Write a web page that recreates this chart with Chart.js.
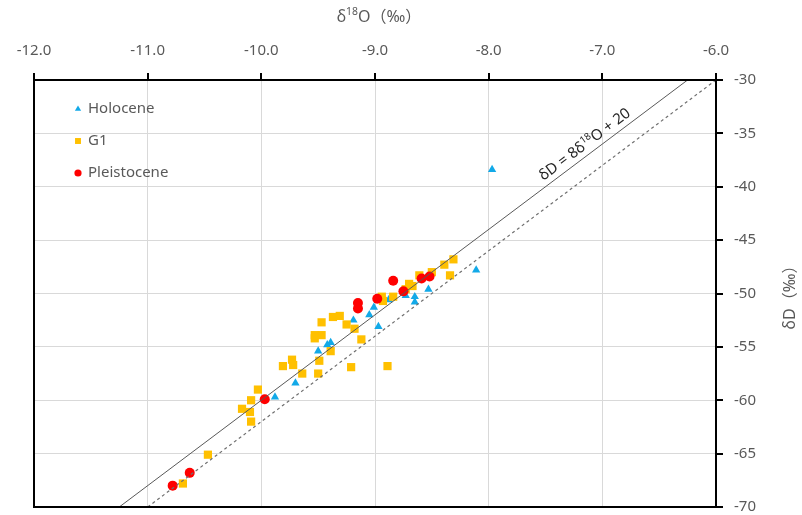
<!DOCTYPE html>
<html>
<head>
<meta charset="utf-8">
<script src="https://cdn.jsdelivr.net/npm/chart.js@4"></script>
<style>
  html, body { margin: 0; padding: 0; background: #fff; }
  #wrap { width: 802px; height: 515px; }
</style>
</head>
<body>
<div id="wrap"><canvas id="chart" width="802" height="515"></canvas></div>
<script>
// 値は画像から読み取り (δ18O, δD)
const holoceneO = [-9.88, -9.70, -9.50, -9.42, -9.39, -9.19, -9.05, -9.01, -8.97, -8.88, -8.73, -8.65, -8.65, -8.53, -8.11, -7.97];
const holoceneD = [-59.7, -58.4, -55.4, -54.8, -54.6, -52.5, -52.0, -51.3, -53.1, -50.6, -50.2, -50.3, -50.8, -49.6, -47.8, -38.4];

const g1O = [-10.69, -10.47, -10.03, -10.09, -10.17, -10.10, -10.09, -9.64, -9.81, -9.73, -9.72, -9.49, -9.50, -9.39, -9.21, -8.89,
             -9.53, -9.53, -9.47, -9.47, -9.37, -9.31, -9.25, -9.18, -9.12, -8.94, -8.93, -8.84, -8.70, -8.67, -8.61, -8.73,
             -8.50, -8.39, -8.31, -8.34];
const g1D = [-67.8, -65.1, -59.0, -60.0, -60.8, -61.1, -62.0, -57.5, -56.8, -56.2, -56.7, -56.3, -57.5, -55.4, -56.9, -56.8,
             -53.9, -54.2, -53.9, -52.7, -52.2, -52.1, -52.9, -53.3, -54.3, -50.3, -50.7, -50.3, -49.1, -49.3, -48.3, -49.6,
             -48.0, -47.3, -46.8, -48.3];

const pleistoO = [-10.78, -10.63, -9.97, -9.15, -9.15, -8.98, -8.84, -8.75, -8.59, -8.52];
const pleistoD = [-68.0, -66.8, -59.9, -50.9, -51.4, -50.5, -48.8, -49.8, -48.6, -48.4];

// 線の両端 (実線: δD = 8δ18O + 20, 破線)
const solidO = [-11.25, -6.25];
const solidD = [-70, -30];
const dashO = [-11.0, -6.0];
const dashD = [-70, -30];

const xTicks = [-12, -11, -10, -9, -8, -7, -6];
const yTicks = [-30, -35, -40, -45, -50, -55, -60, -65, -70];

const seriesNames = ['Holocene', 'G1', 'Pleistocene'];
const seriesColors = ['#12A9E8', '#FFC000', '#FF0000'];
const seriesStyles = ['triangle', 'rect', 'circle'];

const pts = (xs, ys) => xs.map((v, i) => ({ x: v, y: ys[i] }));
const FONT = '"Noto Sans", "Noto Sans CJK SC", sans-serif';
const TXT = '#595959';

// 上付き文字付きテキスト描画
function drawParts(ctx, parts, size) {
    let w = 0;
    parts.forEach(p => {
        ctx.font = (p[1] ? size * 0.65 : size) + 'px ' + FONT;
        w += ctx.measureText(p[0]).width;
    });
    let x = -w / 2;
    parts.forEach(p => {
        ctx.font = (p[1] ? size * 0.65 : size) + 'px ' + FONT;
        ctx.fillText(p[0], x, p[1] ? -size * 0.3 : 0);
        x += ctx.measureText(p[0]).width;
    });
}

// 凡例・タイトル・線ラベル
const decor = {
    id: 'decor',
    afterDraw(chart) {
        const { ctx, chartArea: a, scales: { x, y } } = chart;
        ctx.save();
        ctx.textBaseline = 'middle';
        ctx.textAlign = 'left';
        const ly = [109, 141, 173];
        seriesNames.forEach((n, i) => {
            ctx.fillStyle = seriesColors[i];
            Chart.helpers.drawPoint(ctx, {
                pointStyle: seriesStyles[i], radius: i === 1 ? 4.2 : 3.6, rotation: 0, borderWidth: 0
            }, 78, ly[i]);
            ctx.fillStyle = TXT;
            ctx.font = '15px ' + FONT;
            ctx.fillText(n, 88, ly[i]);
        });

        ctx.fillStyle = TXT;
        ctx.save();
        ctx.translate((a.left + a.right) / 2 + 4, 17);
        drawParts(ctx, [['δ', 0], ['18', 1], ['O（‰）', 0]], 16);
        ctx.restore();
        ctx.save();
        ctx.translate(790, (a.top + a.bottom) / 2);
        ctx.rotate(-Math.PI / 2);
        drawParts(ctx, [['δD（‰）', 0]], 16);
        ctx.restore();

        const x0 = x.getPixelForValue(solidO[0]), y0 = y.getPixelForValue(solidD[0]);
        const x1 = x.getPixelForValue(solidO[1]), y1 = y.getPixelForValue(solidD[1]);
        const t = 0.83;
        ctx.save();
        ctx.translate(x0 + (x1 - x0) * t, y0 + (y1 - y0) * t);
        ctx.rotate(Math.atan2(y1 - y0, x1 - x0));
        ctx.translate(0, -10);
        ctx.fillStyle = '#262626';
        drawParts(ctx, [['δD = 8δ', 0], ['18', 1], ['O + 20', 0]], 15);
        ctx.restore();
        ctx.restore();
    }
};

// 枠と目盛り線 (最後に描く)
const frame = {
    id: 'frame',
    afterDraw(chart) {
        const { ctx, chartArea: a, scales: { x, y } } = chart;
        const L = Math.round(a.left), R = Math.round(a.right), T = Math.round(a.top), B = Math.round(a.bottom);
        ctx.save();
        ctx.globalAlpha = 1;
        ctx.globalCompositeOperation = 'source-over';
        ctx.fillStyle = '#000';
        ctx.fillRect(L - 1, T - 1, R - L + 2, 2);
        ctx.fillRect(L - 1, B - 1, R - L + 2, 2);
        ctx.fillRect(L - 1, T - 1, 2, B - T + 2);
        ctx.fillRect(R - 1, T - 1, 2, B - T + 2);
        xTicks.forEach(v => {
            const px = Math.round(x.getPixelForValue(v));
            ctx.fillRect(px - 1, T - 7, 2, 7);
        });
        yTicks.forEach(v => {
            const py = Math.round(y.getPixelForValue(v));
            ctx.fillRect(R, py - 1, 7, 2);
        });
        ctx.restore();
    }
};

new Chart(document.getElementById('chart'), {
    type: 'scatter',
    data: {
        datasets: [
            { type: 'line', data: pts(solidO, solidD), borderColor: '#595959', borderWidth: 1,
              pointRadius: 0, fill: false },
            { type: 'line', data: pts(dashO, dashD), borderColor: '#6F6F6F', borderWidth: 1.2,
              borderDash: [3, 3], pointRadius: 0, fill: false },
            { label: seriesNames[2], data: pts(pleistoO, pleistoD), pointStyle: 'circle', pointRadius: 5,
              backgroundColor: seriesColors[2], borderWidth: 0 },
            { label: seriesNames[1], data: pts(g1O, g1D), pointStyle: 'rect', pointRadius: 5.8,
              backgroundColor: seriesColors[1], borderWidth: 0 },
            { label: seriesNames[0], data: pts(holoceneO, holoceneD), pointStyle: 'triangle', pointRadius: 4.8,
              backgroundColor: seriesColors[0], borderWidth: 0 }
        ]
    },
    options: {
        responsive: false,
        animation: false,
        layout: { padding: { left: 34, bottom: 8, top: 0, right: 0 } },
        plugins: { legend: { display: false }, tooltip: { enabled: false } },
        scales: {
            x: {
                type: 'linear', position: 'top', min: -12, max: -6,
                afterBuildTicks: s => { s.ticks = xTicks.map(v => ({ value: v })); },
                afterFit: s => { s.height = 80; s.paddingLeft = 0; s.paddingRight = 0; },
                ticks: { color: TXT, font: { family: FONT, size: 15 }, padding: 14,
                         callback: v => v.toFixed(1) },
                grid: { color: '#D9D9D9', tickColor: '#000', tickLength: 6 },
                border: { display: true, color: '#000', width: 2 }
            },
            y: {
                type: 'linear', position: 'right', min: -70, max: -30,
                afterBuildTicks: s => { s.ticks = yTicks.map(v => ({ value: v })); },
                afterFit: s => { s.width = 86; s.paddingTop = 0; s.paddingBottom = 0; },
                ticks: { color: TXT, font: { family: FONT, size: 15, lineHeight: 1 }, padding: 12 },
                grid: { color: '#D9D9D9', tickColor: '#000', tickLength: 6 },
                border: { display: true, color: '#000', width: 2 }
            }
        }
    },
    plugins: [decor, frame]
});
</script>
</body>
</html>
